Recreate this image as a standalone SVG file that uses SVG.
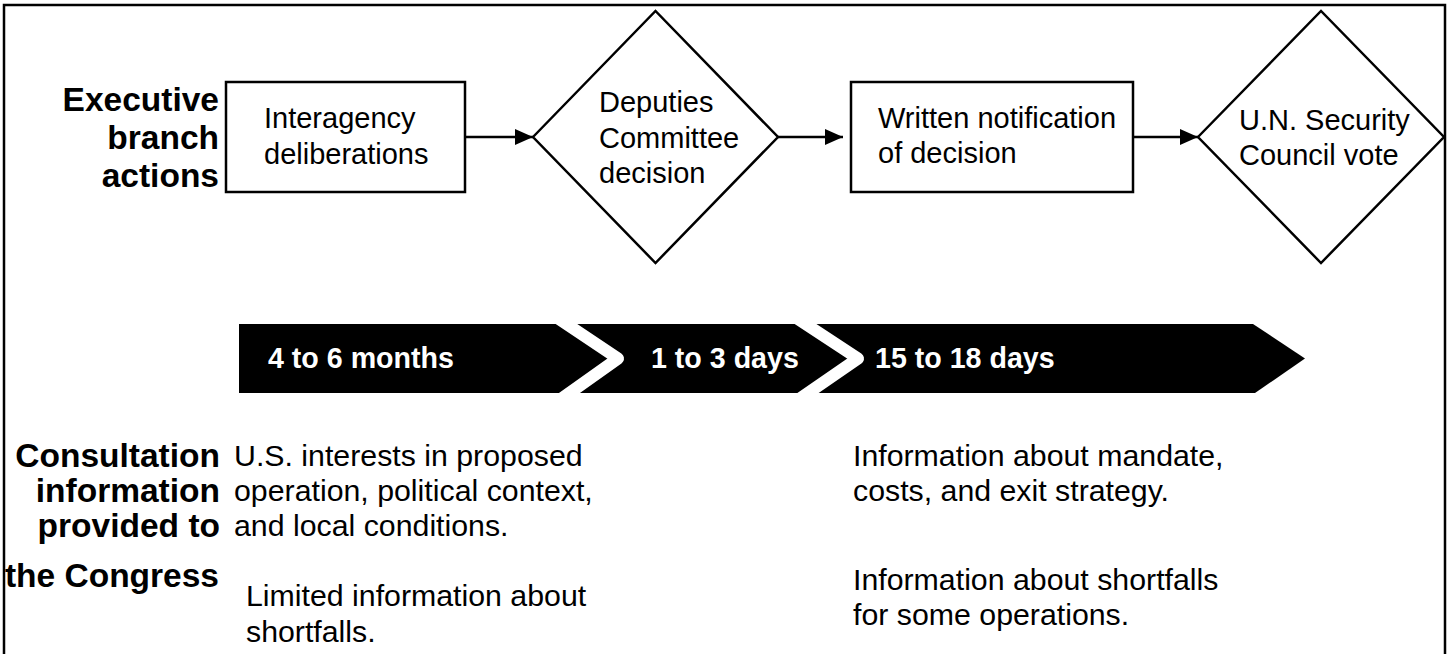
<svg xmlns="http://www.w3.org/2000/svg" width="1452" height="654" viewBox="0 0 1452 654">
  <defs>
    <marker id="arrow" viewBox="0 0 18 16" refX="18" refY="8" markerWidth="18" markerHeight="16" markerUnits="userSpaceOnUse" orient="auto">
      <path d="M0,0 L18,8 L0,16 Z" fill="#000"/>
    </marker>
    <style>
      .shape { fill: #fff; stroke: #000; stroke-width: 2.5; }
      .conn { stroke: #000; stroke-width: 2.5; fill: none; marker-end: url(#arrow); }
      .t { font-family: "Liberation Sans", Arial, Helvetica, sans-serif; font-size: 29px; fill: #000; }
      .b { font-family: "Liberation Sans", Arial, Helvetica, sans-serif; font-size: 30.3px; fill: #000; }
      .lbl { font-family: "Liberation Sans", Arial, Helvetica, sans-serif; font-size: 33.5px; font-weight: bold; fill: #000; text-anchor: end; }
      .tl { font-family: "Liberation Sans", Arial, Helvetica, sans-serif; font-size: 28.6px; font-weight: bold; fill: #fff; }
      .sep { fill: none; stroke: #fff; stroke-width: 12; stroke-linejoin: round; }
    </style>
  </defs>
  <rect width="1452" height="654" fill="#fff"/>
  <path d="M4,660 V5 H1445 V660" fill="none" stroke="#000" stroke-width="2.5"/>

  <g id="label-executive">
    <text class="lbl" x="219" y="111">Executive</text>
    <text class="lbl" x="219" y="149">branch</text>
    <text class="lbl" x="219" y="187">actions</text>
  </g>

  <g id="node-interagency">
    <rect class="shape" x="226" y="82" width="239" height="110"/>
    <text class="t" x="264" y="128">Interagency</text>
    <text class="t" x="264" y="164">deliberations</text>
  </g>

  <g id="node-deputies">
    <polygon class="shape" points="533,137 655.5,11 778,137 655.5,263"/>
    <text class="t" x="599" y="112">Deputies</text>
    <text class="t" x="599" y="148">Committee</text>
    <text class="t" x="599" y="183">decision</text>
  </g>

  <g id="node-notification">
    <rect class="shape" x="851" y="82" width="282" height="110"/>
    <text class="t" x="878" y="128">Written notification</text>
    <text class="t" x="878" y="163">of decision</text>
  </g>

  <g id="node-unsc">
    <polygon class="shape" points="1198,137 1321,11 1444,137 1321,263"/>
    <text class="t" x="1239" y="130">U.N. Security</text>
    <text class="t" x="1239" y="165">Council vote</text>
  </g>

  <g id="connectors">
    <line class="conn" x1="465" y1="137" x2="533" y2="137"/>
    <line class="conn" x1="778" y1="137" x2="843" y2="137"/>
    <line class="conn" x1="1133" y1="137" x2="1198" y2="137"/>
  </g>

  <g id="timeline">
    <polygon points="239,324 1253,324 1305,358.5 1255,393 239,393" fill="#000"/>
    <polyline class="sep" points="557.5,318 618,358.5 561,399"/>
    <polyline class="sep" points="796.4,318 858,358.5 799.3,399"/>
    <text class="tl" x="268" y="368">4 to 6 months</text>
    <text class="tl" x="651" y="368">1 to 3 days</text>
    <text class="tl" x="875" y="368">15 to 18 days</text>
  </g>

  <g id="label-consultation">
    <text class="lbl" x="220" y="467">Consultation</text>
    <text class="lbl" x="220" y="502">information</text>
    <text class="lbl" x="220" y="537">provided to</text>
    <text class="lbl" x="219" y="587">the Congress</text>
  </g>

  <g id="info-left">
    <text class="b" x="234" y="466">U.S. interests in proposed</text>
    <text class="b" x="234" y="501">operation, political context,</text>
    <text class="b" x="234" y="536">and local conditions.</text>
    <text class="b" x="246" y="606">Limited information about</text>
    <text class="b" x="246" y="642">shortfalls.</text>
  </g>

  <g id="info-right">
    <text class="b" x="853" y="466">Information about mandate,</text>
    <text class="b" x="853" y="501">costs, and exit strategy.</text>
    <text class="b" x="853" y="590">Information about shortfalls</text>
    <text class="b" x="853" y="625">for some operations.</text>
  </g>
</svg>
